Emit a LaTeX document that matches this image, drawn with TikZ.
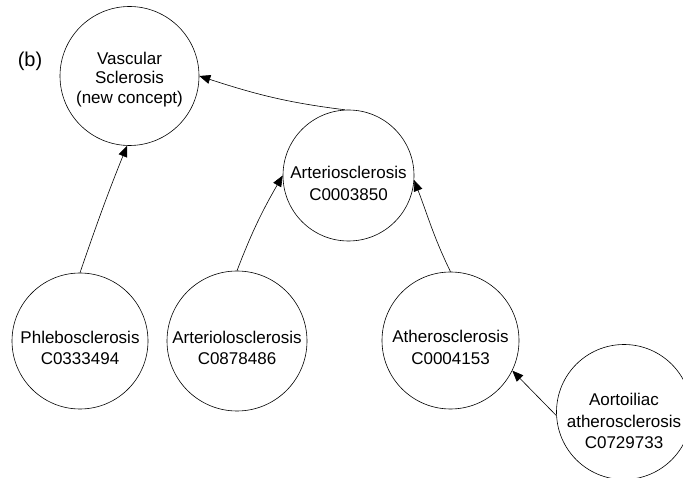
\documentclass[tikz,border=0pt]{standalone}
\usepackage{fontspec}
\setmainfont{Liberation Sans}
\usetikzlibrary{arrows.meta}
\begin{document}
\begin{tikzpicture}[x=1pt,y=1pt,
  concept/.style={circle,draw,line width=0.6pt,inner sep=0pt},
  ctext/.style={align=center,inner sep=0pt,font=\fontsize{17}{21.5}\selectfont},
  isa/.style={line width=0.6pt,-{Triangle[length=11pt,width=9pt]}}]
\useasboundingbox (0,0) rectangle (683,-478);
\begin{scope}
\clip (0,0) rectangle (683,-478);
\node[concept,minimum size=139pt,label={[ctext,font=\fontsize{17}{19.5}\selectfont,yshift=-3.5pt]center:{Vascular\\Sclerosis\\(new concept)}}] (vasc) at (129.5,-76) {};
\node[concept,minimum size=131pt,label={[ctext,yshift=-8pt]center:{Arteriosclerosis\\C0003850}}] (arter) at (348.5,-175.5) {};
\node[concept,minimum size=136pt,label={[ctext,yshift=-7pt]center:{Phlebosclerosis\\C0333494}}] (phleb) at (80,-341) {};
\node[concept,minimum size=140pt,label={[ctext,yshift=-7pt]center:{Arteriolosclerosis\\C0878486}}] (arteriolo) at (237,-341) {};
\node[concept,minimum size=137pt,label={[ctext,yshift=-7pt]center:{Atherosclerosis\\C0004153}}] (athero) at (450.5,-340.5) {};
\node[concept,minimum size=135pt,label={[ctext,yshift=-9pt]center:{Aortoiliac\\atherosclerosis\\C0729733}}] (aorto) at (624,-412) {};
\node[font=\fontsize{20}{22}\selectfont] (lab) at (30,-61) {(b)};
\draw[isa] (phleb.90) to[out=71,in=248] (vasc.-92);
\draw[isa] (arter.93) to[out=173,in=-18] (vasc.0);
\draw[isa] (arteriolo.90) to[out=69,in=240] (arter.180);
\draw[isa] (athero.90) to[out=116,in=-69] (arter.-4);
\draw[isa] (aorto.183) -- (athero.-26);
\end{scope}
\end{tikzpicture}
\end{document}
